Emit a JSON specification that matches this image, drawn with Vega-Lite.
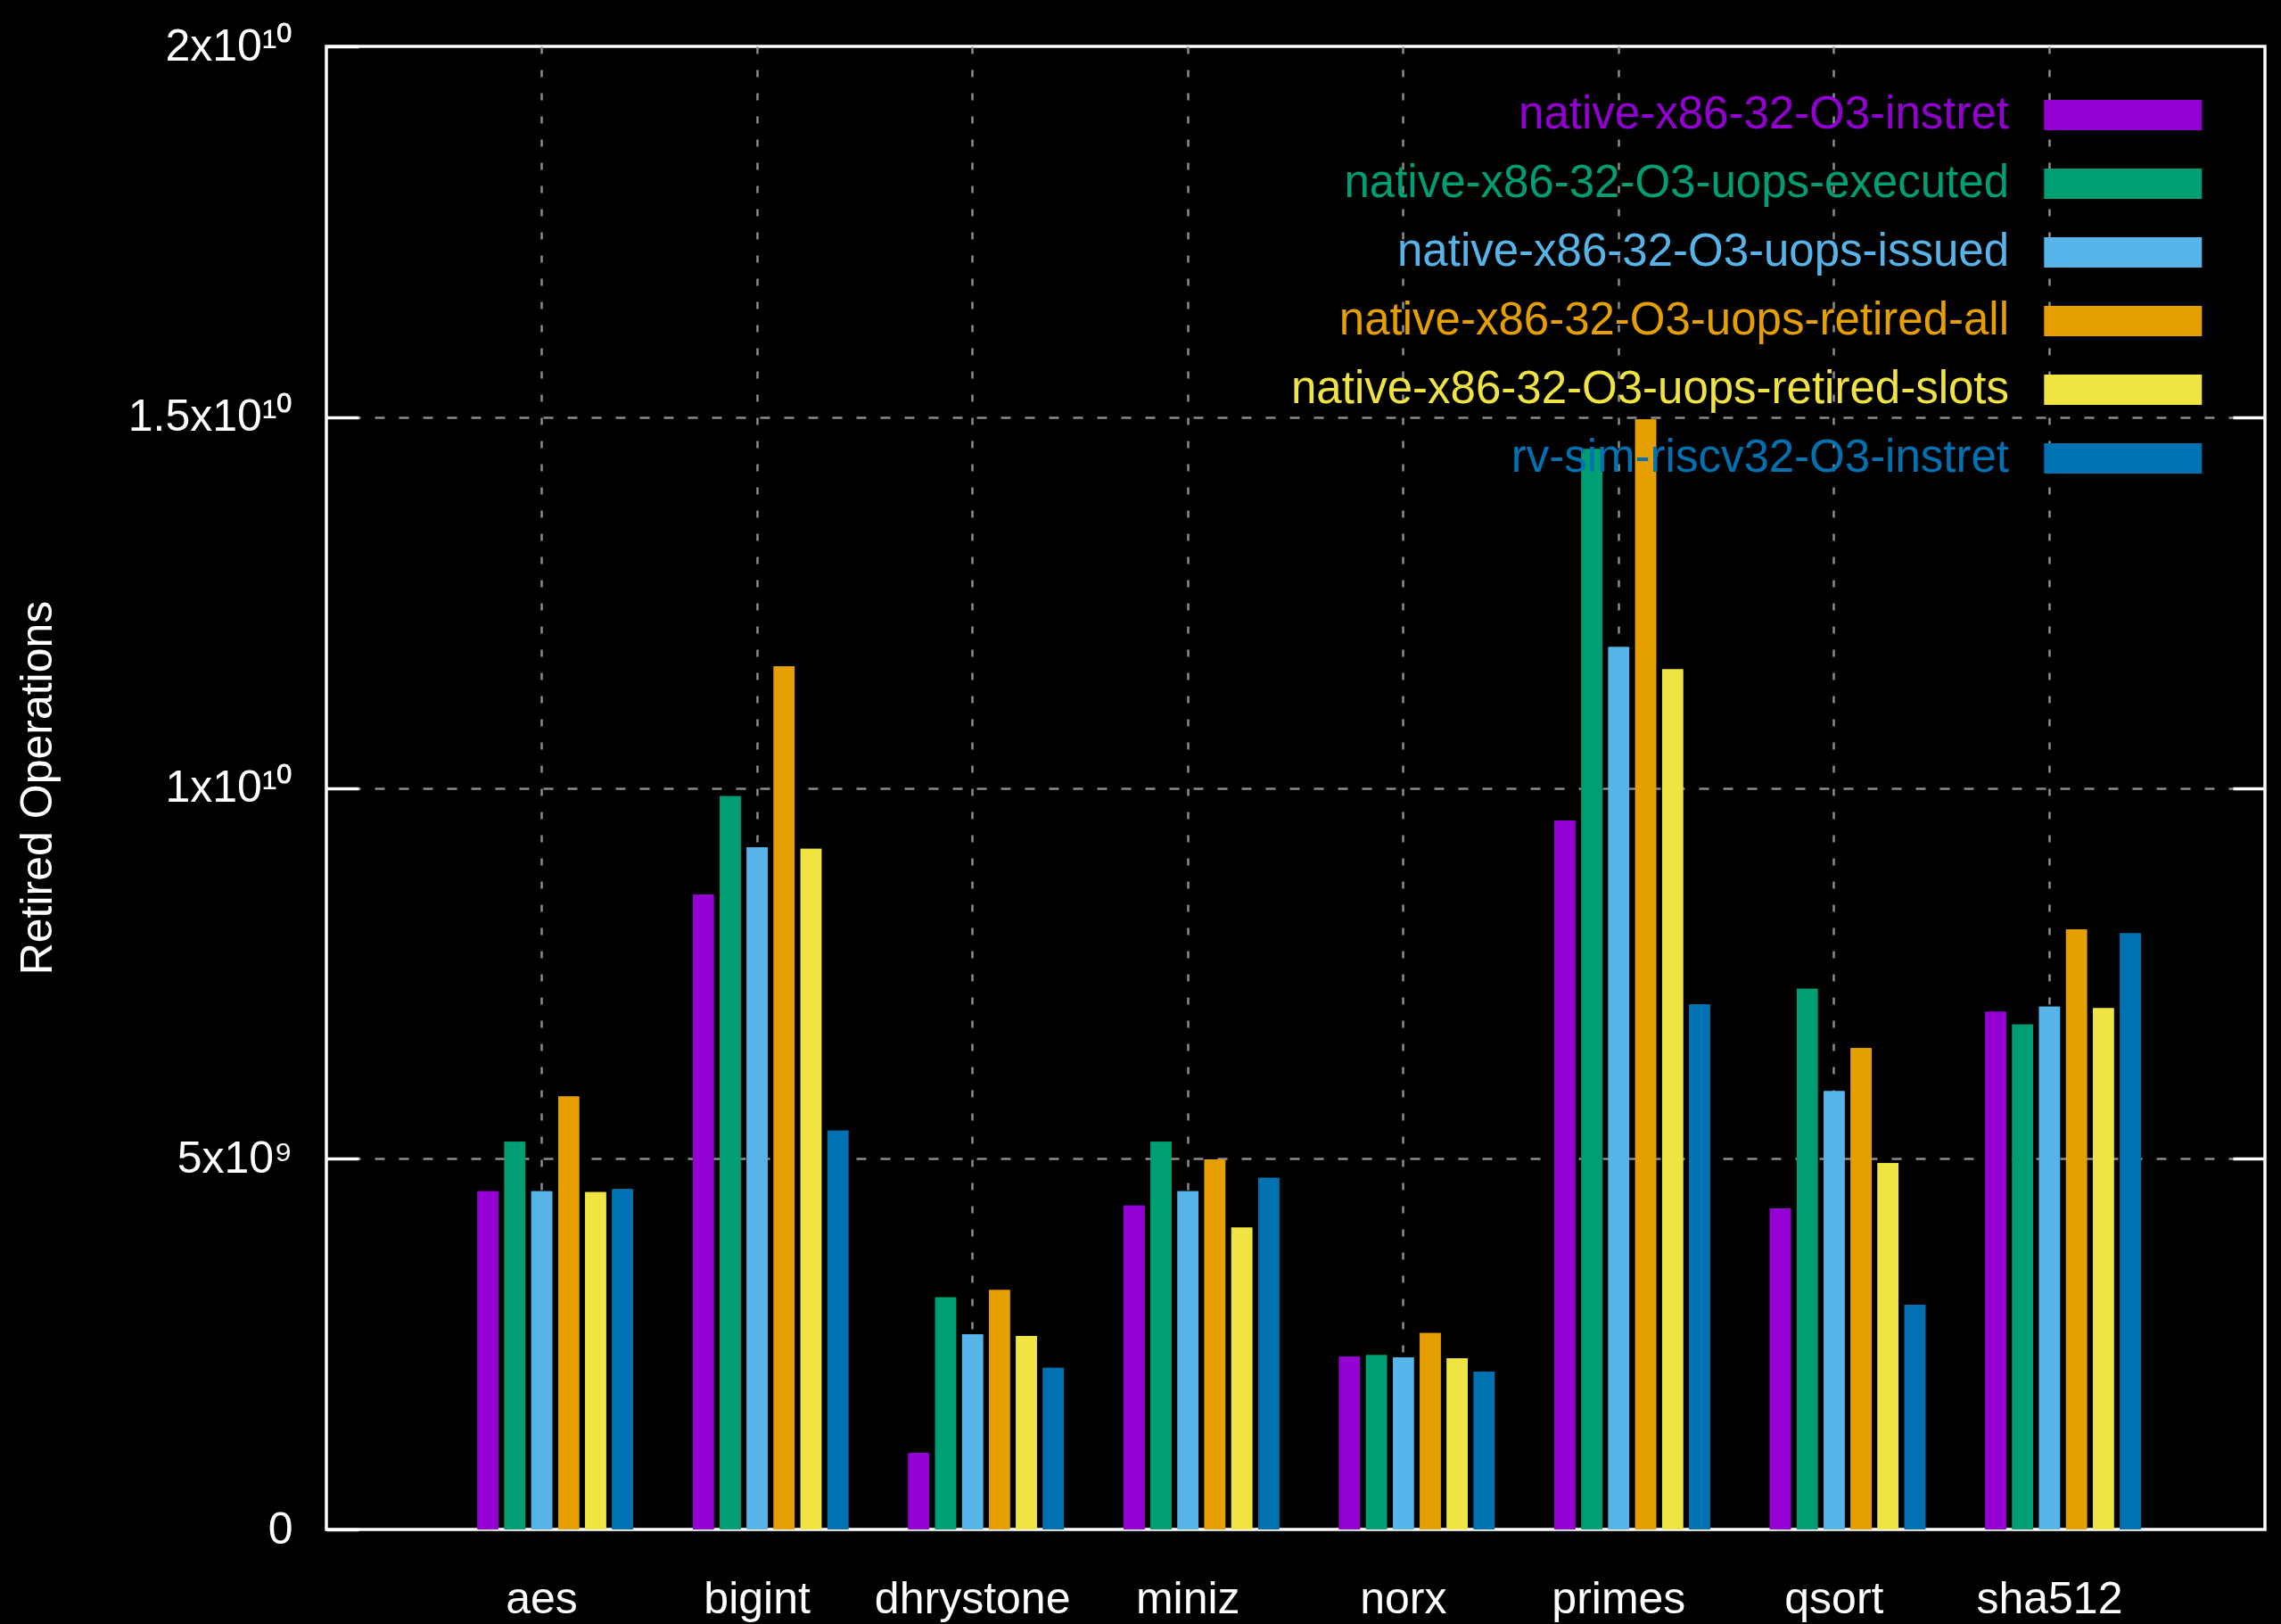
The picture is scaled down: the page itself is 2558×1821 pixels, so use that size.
{
  "$schema": "https://vega.github.io/schema/vega-lite/v6.json",
  "width": 2174,
  "height": 1663,
  "autosize": {"type": "none"},
  "padding": {"left": 366, "top": 52, "right": 18, "bottom": 106},
  "background": "black",
  "data": {
    "values": [
      {"bench": "aes", "series": "native-x86-32-O3-instret", "value": 4560000000},
      {"bench": "aes", "series": "native-x86-32-O3-uops-executed", "value": 5230000000},
      {"bench": "aes", "series": "native-x86-32-O3-uops-issued", "value": 4560000000},
      {"bench": "aes", "series": "native-x86-32-O3-uops-retired-all", "value": 5840000000},
      {"bench": "aes", "series": "native-x86-32-O3-uops-retired-slots", "value": 4550000000},
      {"bench": "aes", "series": "rv-sim-riscv32-O3-instret", "value": 4590000000},
      {"bench": "bigint", "series": "native-x86-32-O3-instret", "value": 8560000000},
      {"bench": "bigint", "series": "native-x86-32-O3-uops-executed", "value": 9890000000},
      {"bench": "bigint", "series": "native-x86-32-O3-uops-issued", "value": 9200000000},
      {"bench": "bigint", "series": "native-x86-32-O3-uops-retired-all", "value": 11640000000},
      {"bench": "bigint", "series": "native-x86-32-O3-uops-retired-slots", "value": 9180000000},
      {"bench": "bigint", "series": "rv-sim-riscv32-O3-instret", "value": 5380000000},
      {"bench": "dhrystone", "series": "native-x86-32-O3-instret", "value": 1030000000},
      {"bench": "dhrystone", "series": "native-x86-32-O3-uops-executed", "value": 3130000000},
      {"bench": "dhrystone", "series": "native-x86-32-O3-uops-issued", "value": 2630000000},
      {"bench": "dhrystone", "series": "native-x86-32-O3-uops-retired-all", "value": 3230000000},
      {"bench": "dhrystone", "series": "native-x86-32-O3-uops-retired-slots", "value": 2610000000},
      {"bench": "dhrystone", "series": "rv-sim-riscv32-O3-instret", "value": 2180000000},
      {"bench": "miniz", "series": "native-x86-32-O3-instret", "value": 4370000000},
      {"bench": "miniz", "series": "native-x86-32-O3-uops-executed", "value": 5230000000},
      {"bench": "miniz", "series": "native-x86-32-O3-uops-issued", "value": 4560000000},
      {"bench": "miniz", "series": "native-x86-32-O3-uops-retired-all", "value": 4990000000},
      {"bench": "miniz", "series": "native-x86-32-O3-uops-retired-slots", "value": 4070000000},
      {"bench": "miniz", "series": "rv-sim-riscv32-O3-instret", "value": 4740000000},
      {"bench": "norx", "series": "native-x86-32-O3-instret", "value": 2330000000},
      {"bench": "norx", "series": "native-x86-32-O3-uops-executed", "value": 2350000000},
      {"bench": "norx", "series": "native-x86-32-O3-uops-issued", "value": 2320000000},
      {"bench": "norx", "series": "native-x86-32-O3-uops-retired-all", "value": 2650000000},
      {"bench": "norx", "series": "native-x86-32-O3-uops-retired-slots", "value": 2310000000},
      {"bench": "norx", "series": "rv-sim-riscv32-O3-instret", "value": 2130000000},
      {"bench": "primes", "series": "native-x86-32-O3-instret", "value": 9560000000},
      {"bench": "primes", "series": "native-x86-32-O3-uops-executed", "value": 14570000000},
      {"bench": "primes", "series": "native-x86-32-O3-uops-issued", "value": 11900000000},
      {"bench": "primes", "series": "native-x86-32-O3-uops-retired-all", "value": 14970000000},
      {"bench": "primes", "series": "native-x86-32-O3-uops-retired-slots", "value": 11600000000},
      {"bench": "primes", "series": "rv-sim-riscv32-O3-instret", "value": 7080000000},
      {"bench": "qsort", "series": "native-x86-32-O3-instret", "value": 4330000000},
      {"bench": "qsort", "series": "native-x86-32-O3-uops-executed", "value": 7290000000},
      {"bench": "qsort", "series": "native-x86-32-O3-uops-issued", "value": 5910000000},
      {"bench": "qsort", "series": "native-x86-32-O3-uops-retired-all", "value": 6490000000},
      {"bench": "qsort", "series": "native-x86-32-O3-uops-retired-slots", "value": 4940000000},
      {"bench": "qsort", "series": "rv-sim-riscv32-O3-instret", "value": 3030000000},
      {"bench": "sha512", "series": "native-x86-32-O3-instret", "value": 6980000000},
      {"bench": "sha512", "series": "native-x86-32-O3-uops-executed", "value": 6810000000},
      {"bench": "sha512", "series": "native-x86-32-O3-uops-issued", "value": 7050000000},
      {"bench": "sha512", "series": "native-x86-32-O3-uops-retired-all", "value": 8090000000},
      {"bench": "sha512", "series": "native-x86-32-O3-uops-retired-slots", "value": 7030000000},
      {"bench": "sha512", "series": "rv-sim-riscv32-O3-instret", "value": 8040000000}
    ]
  },
  "encoding": {
    "x": {
      "field": "bench",
      "type": "nominal",
      "sort": ["aes", "bigint", "dhrystone", "miniz", "norx", "primes", "qsort", "sha512"],
      "scale": {"paddingInner": 0.125, "paddingOuter": 0.5625},
      "axis": {
        "title": null,
        "orient": "bottom",
        "labelAngle": 0,
        "labelFontSize": 50,
        "labelColor": "white",
        "labelBaseline": "alphabetic",
        "labelPadding": 93,
        "labelLimit": 1000,
        "ticks": false,
        "tickSize": 0,
        "domain": false,
        "grid": true,
        "bandPosition": 0.5,
        "gridColor": "#8c8c8c",
        "gridWidth": 2.5,
        "gridDash": [8, 18]
      }
    },
    "xOffset": {
      "field": "series",
      "type": "nominal",
      "scale": {
        "domain": [" ", "native-x86-32-O3-instret", "native-x86-32-O3-uops-executed", "native-x86-32-O3-uops-issued", "native-x86-32-O3-uops-retired-all", "native-x86-32-O3-uops-retired-slots", "rv-sim-riscv32-O3-instret"],
        "paddingInner": 0.222,
        "paddingOuter": 0.111
      }
    },
    "color": {
      "field": "series",
      "type": "nominal",
      "scale": {
        "domain": ["native-x86-32-O3-instret", "native-x86-32-O3-uops-executed", "native-x86-32-O3-uops-issued", "native-x86-32-O3-uops-retired-all", "native-x86-32-O3-uops-retired-slots", "rv-sim-riscv32-O3-instret"],
        "range": ["#9400d3", "#009e73", "#56b4e9", "#e69f00", "#f0e442", "#0072b2"]
      },
      "legend": {
        "title": null,
        "orient": "none",
        "legendX": 1963.3,
        "legendY": 25.5,
        "padding": 0,
        "labelFontSize": 51,
        "labelFont": "Liberation Sans",
        "labelLimit": 2000,
        "rowPadding": 0,
        "symbolType": "M-1.7285,-0.332H1.7285V0.332H-1.7285Z",
        "symbolSize": 10486,
        "symbolStrokeWidth": 0,
        "encode": {
          "labels": {
            "update": {
              "fill": {"scale": "color", "field": "value"},
              "align": {"value": "right"},
              "x": {"value": -76.3}
            }
          }
        }
      }
    }
  },
  "layer": [
    {
      "mark": {"type": "bar"},
      "encoding": {
        "y": {
          "field": "value",
          "type": "quantitative",
          "scale": {"domain": [0, 20000000000], "nice": false, "zero": true},
          "axis": {
            "orient": "left",
            "title": "Retired Operations",
            "titleFontSize": 50,
            "titleFontWeight": "normal",
            "titleColor": "white",
            "titleAngle": -90,
            "titleAlign": "center",
            "titleBaseline": "alphabetic",
            "titleX": -309,
            "titleY": 831,
            "values": [0, 5000000000, 10000000000, 15000000000, 20000000000],
            "labelExpr": "datum.value == 0 ? '0' : datum.value == 5000000000 ? '5x10⁹' : datum.value == 10000000000 ? '1x10¹⁰' : datum.value == 15000000000 ? '1.5x10¹⁰' : '2x10¹⁰'",
            "labelFontSize": 50,
            "labelColor": "white",
            "labelBaseline": "middle",
            "labelPadding": 74,
            "labelLimit": 1000,
            "ticks": true,
            "tickSize": -36,
            "tickColor": "white",
            "tickWidth": 3.5,
            "domain": false,
            "grid": true,
            "gridColor": "#8c8c8c",
            "gridWidth": 2.5,
            "gridDash": [11, 16],
            "gridOpacity": {"condition": {"test": "datum.value == 0 || datum.value == 20000000000", "value": 0}, "value": 1}
          }
        }
      }
    },
    {
      "mark": {"type": "bar"},
      "encoding": {
        "y": {
          "field": "value",
          "type": "quantitative",
          "scale": {"domain": [0, 20000000000], "nice": false, "zero": true},
          "axis": {
            "orient": "right",
            "title": null,
            "values": [5000000000, 10000000000, 15000000000],
            "labels": false,
            "ticks": true,
            "tickSize": -36,
            "tickColor": "white",
            "tickWidth": 3.5,
            "domain": false,
            "grid": false
          }
        }
      }
    }
  ],
  "resolve": {"axis": {"y": "independent"}},
  "config": {
    "font": "Liberation Sans",
    "view": {"stroke": "white", "strokeWidth": 3.5}
  }
}
